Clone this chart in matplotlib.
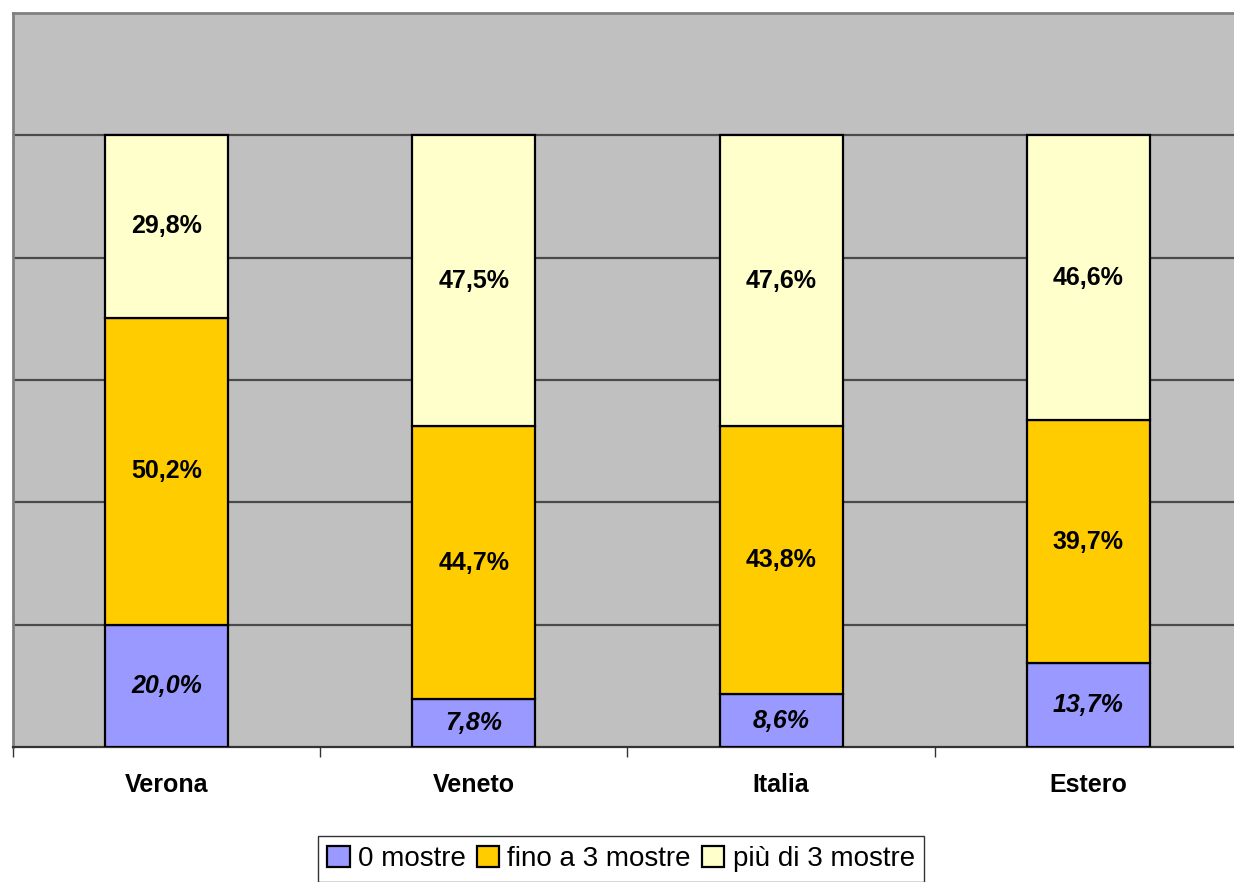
import numpy as np
import matplotlib.pyplot as plt

# --- dati ---
categorie = ['Verona', 'Veneto', 'Italia', 'Estero']
zero_mostre = [20.0, 7.8, 8.6, 13.7]
fino_3 = [50.2, 44.7, 43.8, 39.7]
piu_3 = [29.8, 47.5, 47.6, 46.6]
serie_nomi = ['0 mostre', 'fino a 3 mostre', 'più di 3 mostre']

colori = ['#9999FF', '#FFCC00', '#FFFFCC']

plt.rcParams['font.family'] = ['Liberation Sans', 'DejaVu Sans']

fig = plt.figure(figsize=(12.34, 8.82), dpi=100)
ax = fig.add_axes([13 / 1234, 135 / 882, 1229 / 1234, 734 / 882])
ax.set_facecolor('#C0C0C0')

x = np.arange(len(categorie))
larghezza = 0.4
base = np.zeros(len(categorie))
for i, (vals, col, nome) in enumerate(zip([zero_mostre, fino_3, piu_3], colori, serie_nomi)):
    vals = np.array(vals)
    ax.bar(x, vals, larghezza, bottom=base, color=col, edgecolor='black',
           linewidth=1.6, label=nome, zorder=3)
    stile = 'italic' if i == 0 else 'normal'
    for xi, b, v in zip(x, base, vals):
        ax.text(xi, b + v / 2, f'{v:.1f}%'.replace('.', ','), ha='center', va='center',
                fontsize=18, fontweight='bold', fontstyle=stile, zorder=4)
    base = base + vals

ax.set_xlim(-0.5, 3.5)
ax.set_ylim(0, 120)
ax.set_yticks([20, 40, 60, 80, 100])
ax.yaxis.grid(True, color='#4a4a4a', linewidth=1.6, zorder=1)
ax.tick_params(axis='y', length=0, labelleft=False)

ax.set_xticks([-0.5, 0.5, 1.5, 2.5])
ax.set_xticklabels([])
ax.tick_params(axis='x', length=7, width=1, color='#333333', direction='out')
for xi, c in zip(x, categorie):
    ax.text(xi, -6.2, c, ha='center', va='center', fontsize=18, fontweight='bold')

for lato in ['top', 'left']:
    ax.spines[lato].set_color('#808080')
    ax.spines[lato].set_linewidth(2)
ax.spines['bottom'].set_color('#333333')
ax.spines['bottom'].set_linewidth(1.6)
ax.spines['right'].set_visible(False)

fig.legend(loc='upper center', bbox_to_anchor=(621 / 1234, 1 - 836 / 882), ncol=3,
           fontsize=20, frameon=True, fancybox=False, edgecolor='black',
           handlelength=0.8, handleheight=0.8, handletextpad=0.3, columnspacing=0.4,
           borderpad=0.35, borderaxespad=0)

fig.savefig('out.png', dpi=100, facecolor='white')
